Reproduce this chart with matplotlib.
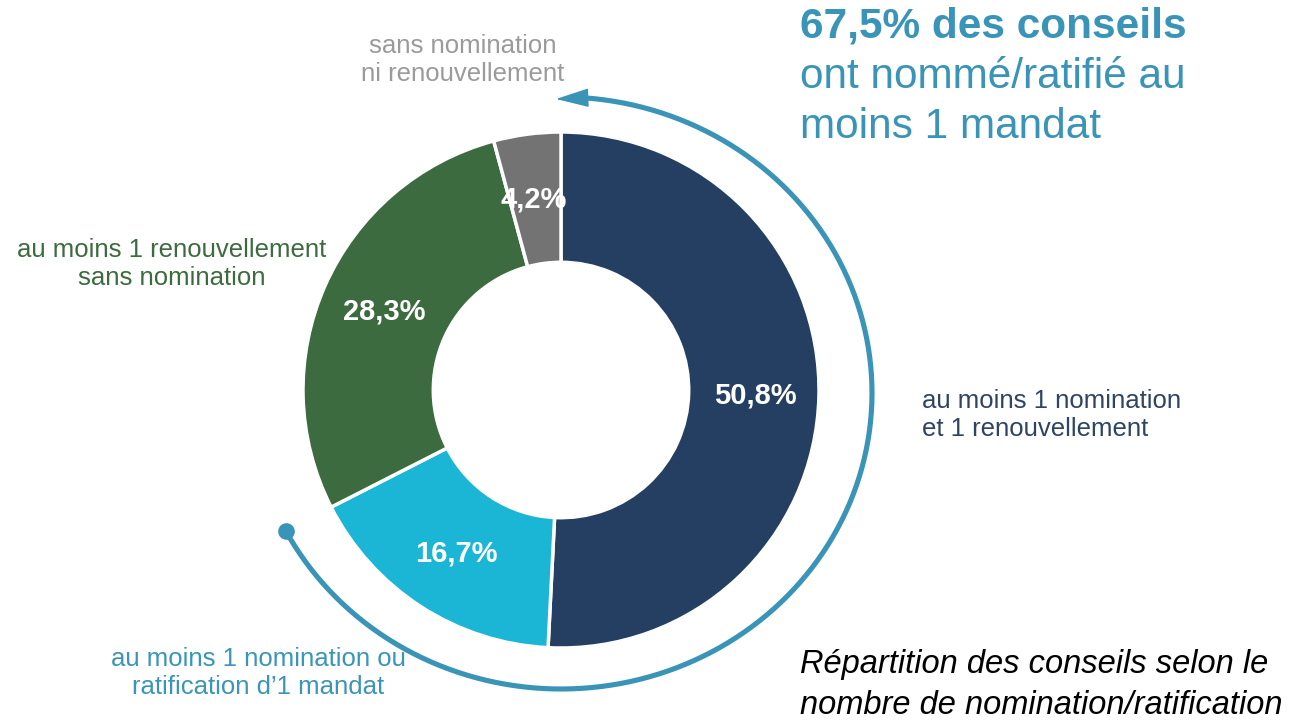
import numpy as np
import matplotlib
matplotlib.use('Agg')
import matplotlib.pyplot as plt

plt.rcParams['font.family'] = ['Liberation Sans', 'DejaVu Sans']

# Data (clockwise from 12 o'clock)
shares = [50.8, 16.7, 28.3, 4.2]
pct_labels = ['50,8%', '16,7%', '28,3%', '4,2%']
colors = ['#253F63', '#1BB5D6', '#3D6B40', '#737373']
cat_labels = ['au moins 1 nomination\net 1 renouvellement',
              'au moins 1 nomination ou\nratification d\u20191 mandat',
              'au moins 1 renouvellement\nsans nomination',
              'sans nomination\nni renouvellement']
label_colors = ['#2D4466', '#3A95B8', '#3D6B40', '#9A9A9A']

W, H = 1310, 720
fig = plt.figure(figsize=(W / 100, H / 100), dpi=100)
ax = fig.add_axes([0, 0, 1, 1])

cx, cy = 561, H - 390
R = 258

ax.pie(shares, colors=colors, startangle=90, counterclock=False,
       radius=R, center=(cx, cy), frame=True,
       wedgeprops=dict(width=R * 0.505, edgecolor='white', linewidth=2.5))
ax.set_xlim(0, W)
ax.set_ylim(0, H)
ax.set_aspect('equal')
ax.axis('off')

# percentage labels inside the ring
pct_pos = [(755, 396), (456, 554), (384, 312), (534, 200)]
for (px, py), t in zip(pct_pos, pct_labels):
    ax.text(px, H - py, t, color='white', fontsize=21, fontweight='bold',
            ha='center', va='center')

# category labels
ax.text(922, H - 415, cat_labels[0], color=label_colors[0], fontsize=18.5,
        ha='left', va='center', linespacing=1.2)
ax.text(258, H - 673, cat_labels[1], color=label_colors[1], fontsize=18.5,
        ha='center', va='center', linespacing=1.2)
ax.text(172, H - 264, cat_labels[2], color=label_colors[2], fontsize=18.5,
        ha='center', va='center', linespacing=1.2)
ax.text(463, H - 60, cat_labels[3], color=label_colors[3], fontsize=18.5,
        ha='center', va='center', linespacing=1.2)

# arc (slightly elliptical) with arrow around the "nominated" share
arc_col = '#3A94B8'
ecx, ecy = 561, H - 393
ea, eb = 311, 296
t0, t1 = np.deg2rad(207.7), np.deg2rad(445.6)
ts = np.linspace(t0, t1, 400)
ax.plot(ecx + ea * np.cos(ts), ecy + eb * np.sin(ts), color=arc_col, lw=3.7,
        solid_capstyle='butt')
ax.plot(ecx + ea * np.cos(t0), ecy + eb * np.sin(t0), 'o', color=arc_col,
        ms=12, mec='none')
ax.annotate('', xy=(556, H - 99),
            xytext=(ecx + ea * np.cos(t1), ecy + eb * np.sin(t1)),
            arrowprops=dict(arrowstyle='-|>,head_length=2.1,head_width=0.6',
                            color=arc_col, lw=1, shrinkA=0, shrinkB=0))

# headline
ax.text(800, H - 27, '67,5% des conseils', color=arc_col, fontsize=30.5,
        fontweight='bold', ha='left', va='center')
ax.text(800, H - 77, 'ont nommé/ratifié au', color=arc_col, fontsize=30.5,
        ha='left', va='center')
ax.text(800, H - 127, 'moins 1 mandat', color=arc_col, fontsize=30.5,
        ha='left', va='center')

# caption
ax.text(800, H - 664, 'Répartition des conseils selon le', color='black',
        fontsize=23.5, style='italic', ha='left', va='center')
ax.text(800, H - 705, 'nombre de nomination/ratification', color='black',
        fontsize=23.5, style='italic', ha='left', va='center')

fig.savefig('out.png', dpi=100, facecolor='white')
